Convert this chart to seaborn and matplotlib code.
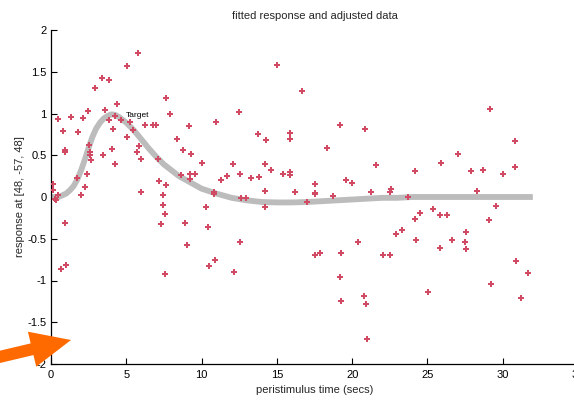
import numpy as np
import pandas as pd
import matplotlib
matplotlib.use("Agg")
import matplotlib.pyplot as plt
import matplotlib.transforms as mtransforms
from matplotlib.patches import FancyArrow
import seaborn as sns

# ---- data ----
data_t = [0.11, 0.15, 0.27, 0.33, 0.44, 0.49, 0.66, 0.77, 0.93, 0.93, 0.93, 1.0, 1.31, 1.75, 1.82,
          1.97, 2.10, 2.24, 2.37, 2.48, 2.55, 2.59, 2.59, 2.63, 2.94, 3.41, 3.43, 3.61, 3.85, 3.87,
          4.03, 4.10, 4.23, 4.25, 4.36, 4.63, 5.02, 5.07, 5.25, 5.47, 5.69, 5.76, 5.87, 5.95, 5.98,
          6.26, 6.80, 6.95, 7.13, 7.17, 7.33, 7.41, 7.46, 7.57, 7.57, 7.61, 7.64, 7.90, 8.39, 8.61,
          8.74, 8.88, 9.05, 9.18, 9.23, 9.23, 9.27, 9.58, 10.03, 10.29, 10.40, 10.51, 10.82, 10.82,
          10.87, 10.94, 11.27, 11.70, 12.10, 12.15, 12.50, 12.57, 12.57, 12.60, 12.93, 13.30, 13.77,
          13.79, 14.20, 14.23, 14.23, 14.28, 14.59, 15.03, 15.38, 15.87, 15.90, 15.87, 15.87, 16.22,
          16.69, 17.02, 17.51, 17.53, 17.53, 17.51, 17.86, 18.35, 18.75, 19.17, 19.17, 19.24, 19.24,
          19.57, 19.99, 20.38, 20.80, 20.87, 20.90, 20.96, 21.23, 21.60, 22.07, 22.51, 22.55, 22.53,
          22.89, 23.33, 23.68, 24.17, 24.17, 24.24, 24.52, 25.01, 25.34, 25.81, 25.81, 25.88, 26.27,
          26.65, 27.05, 27.49, 27.53, 27.58, 27.89, 28.29, 28.70, 29.10, 29.17, 29.22, 29.53, 29.99,
          30.80, 30.81, 30.88, 31.19, 31.65]
data_v = [0.08, 0.15, -0.02, -0.04, 0.94, 0.02, -0.86, 0.79, 0.56, 0.54, -0.31, -0.82, 0.96, 0.23, 0.78,
          0.02, 0.95, 0.12, 0.27, 1.03, 0.62, 0.54, 0.50, 0.44, 1.31, 1.43, 0.50, 1.04, 0.92, 1.40,
          0.57, 0.82, 0.40, 0.97, 1.11, 0.92, 1.57, 0.72, 0.90, 0.80, 0.54, 1.72, 0.61, 0.06, 0.46,
          0.86, 0.86, 0.86, 0.46, 0.19, -0.32, 0.02, -0.10, -0.20, -0.92, 0.14, 1.18, 1.00, 0.70, 0.26,
          0.56, -0.31, -0.57, 0.85, 0.28, 0.22, 0.52, 0.28, 0.41, -0.12, -0.36, -0.83, 0.06, 0.03,
          -0.75, 0.90, 0.20, 0.25, 0.39, -0.90, 1.02, 0.27, -0.54, -0.01, -0.01, 0.23, 0.76,
          0.24, 0.39, 0.07, -0.12, 0.68, 0.32, 1.58, 0.28, 0.77, 0.70, 0.30, 0.26, 0.06,
          1.27, -0.06, 0.16, 0.05, 0.04, -0.69, -0.67, 0.59, 0.01, 0.86, -0.96, -0.67, -1.25,
          0.20, 0.17, -0.54, -1.18, 0.81, -1.28, -1.70, 0.06, 0.38, -0.70, 0.06, 0.10, -0.70,
          -0.44, -0.39, 0.00, 0.31, -0.26, -0.51, -0.19, -1.14, -0.14, -0.22, -0.61, 0.41, -0.22,
          -0.51, 0.52, -0.54, -0.42, -0.62, 0.31, 0.07, 0.32, -0.27, 1.05, -1.04, -0.11, 0.27,
          0.67, 0.36, -0.77, -1.21, -0.91]

fit_t = [0, 0.5, 1, 1.25, 1.5, 1.75, 2, 2.25, 2.5, 2.75, 3, 3.25, 3.5, 3.75, 4, 4.25, 4.5, 5,
         5.5, 6, 6.5, 7, 7.5, 8, 8.5, 9, 9.5, 10, 11, 12, 13, 14, 15, 16, 17, 18, 19, 20, 21,
         22, 23, 24, 26, 28, 30, 32]
fit_v = [0, 0.0, 0.04, 0.08, 0.13, 0.21, 0.32, 0.45, 0.59, 0.72, 0.82, 0.89, 0.94, 0.97, 0.99,
         0.985, 0.96, 0.89, 0.80, 0.69, 0.58, 0.48, 0.39, 0.32, 0.25, 0.20, 0.15, 0.10, 0.04,
         -0.01, -0.04, -0.06, -0.065, -0.065, -0.06, -0.05, -0.04, -0.03, -0.02, -0.01, -0.01,
         0, 0, 0, 0, 0]

x_ticks = [0, 5, 10, 15, 20, 25, 30, 35]
y_ticks = [-2, -1.5, -1, -0.5, 0, 0.5, 1, 1.5, 2]
y_tick_labels = ["-2", "-1.5", "-1", "-0.5", "0", "0.5", "1", "1.5", "2"]

title = "fitted response and adjusted data"
x_label = "peristimulus time (secs)"
y_label = "response at [48, -57, 48]"
target_label = "Target"

# ---- style ----
sns.set_theme(style="white")
plt.rcParams["font.family"] = ["Liberation Sans", "DejaVu Sans"]
plt.rcParams["axes.unicode_minus"] = False

W, H = 574, 401
fig = plt.figure(figsize=(W / 100, H / 100), dpi=100)
fig.patch.set_facecolor("white")
ax = fig.add_axes([51 / W, 37 / H, 527 / W, 334 / H])
ax.set_facecolor("white")

df_fit = pd.DataFrame({"t": fit_t, "v": fit_v})
df_pts = pd.DataFrame({"t": data_t, "v": data_v})

sns.lineplot(data=df_fit, x="t", y="v", ax=ax, color="#bcbcbc", linewidth=4.2,
             solid_capstyle="butt", solid_joinstyle="round", zorder=2)
sns.scatterplot(data=df_pts, x="t", y="v", ax=ax, color="#d04a64", marker="P",
                s=15, linewidth=0, zorder=3)

ax.text(4.98, 0.975, target_label, fontsize=6, ha="left", va="center", color="black")

ax.set_xlim(0, 35)
ax.set_ylim(-2, 2)
ax.set_xticks(x_ticks)
ax.set_yticks(y_ticks)
ax.set_yticklabels(y_tick_labels)
ax.tick_params(direction="in", length=4, width=0.8, colors="black", labelsize=8,
               bottom=True, left=True, pad=3)
ax.tick_params(axis="x", pad=4)
for side in ["top", "right"]:
    ax.spines[side].set_visible(False)
for side in ["left", "bottom"]:
    ax.spines[side].set_color("black")
    ax.spines[side].set_linewidth(0.9)

ax.set_title(title, fontsize=8, pad=8)
ax.set_xlabel(x_label, fontsize=8, labelpad=4)
ax.set_ylabel(y_label, fontsize=8, labelpad=2)

# orange call-out arrow (annotation overlay, in pixel coordinates)
arrow = FancyArrow(-26, 38, 97, 23, width=12, head_width=36, head_length=40,
                   length_includes_head=True, color="#ff6a00", linewidth=0,
                   transform=mtransforms.IdentityTransform(), zorder=10)
fig.add_artist(arrow)

fig.savefig("out.png", dpi=100)
